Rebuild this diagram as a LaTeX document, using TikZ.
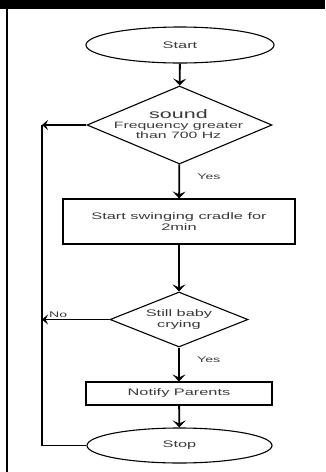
\documentclass[tikz,border=0pt]{standalone}
\usepackage{fontspec}
\usepackage{graphicx}
\setmainfont{Liberation Sans}
\newcommand{\W}[1]{\scalebox{1.72}[1]{#1}}
\usetikzlibrary{shapes.geometric,arrows.meta}
\definecolor{txt}{HTML}{3A3A3A}
\begin{document}
\begin{tikzpicture}[x=1pt,y=-1pt,
  every node/.style={text=txt,font=\fontsize{9.5}{11}\selectfont},
  term/.style={draw,ellipse,line width=1.1pt,inner sep=0pt},
  decis/.style={draw,diamond,line width=1.1pt,inner sep=0pt,align=center},
  proc/.style={draw,rectangle,line width=1.1pt,inner sep=0pt,align=center},
  flow/.style={line width=1.8pt,-{Stealth[length=7pt,width=13pt,inset=3pt]}},
  back/.style={line width=1.1pt,-{Stealth[length=6pt,width=10pt,inset=2.5pt]}},
  lbl/.style={font=\fontsize{8.2}{10}\selectfont}]
\useasboundingbox (0,0) rectangle (325,472);
\fill[black] (0,0) rectangle (325,9);
\draw[line width=2pt] (7,9) -- (7,472);

\node[term,minimum width=188pt,minimum height=36pt] (start) at (180,45) {\W{Start}};
\node[decis,minimum width=185pt,minimum height=78pt] (d1) at (179.5,125) {};
\node[align=center,inner sep=0pt,font=\fontsize{9.2}{10}\selectfont] (d1t) at (178.5,124.5)
  {{\fontsize{12.5}{10}\selectfont\W{sound}}\\\W{Frequency greater}\\\W{than 700 Hz}};
\node[proc,minimum width=232pt,minimum height=45pt] (r1) at (179,221.5) {\W{Start swinging cradle for}\\\W{2min}};
\node[decis,minimum width=138pt,minimum height=55pt,shape aspect=2.5] (d2) at (179,319.5) {\W{Still baby}\\\W{crying}};
\node[proc,minimum width=186pt,minimum height=23pt] (r2) at (179,393.5) {\W{Notify Parents}};
\node[term,minimum width=185pt,minimum height=35pt] (stop) at (179.5,445.5) {\W{Stop}};

\coordinate (c1) at (42,125);
\coordinate (c2) at (42,319.5);
\coordinate (c3) at (42,445.5);

\draw[flow] (start) -- (d1);
\draw[flow] (d1) -- node[lbl,right=14pt,pos=0.35] (y1) {\W{Yes}} (r1);
\draw[flow] (r1) -- (d2);
\draw[flow] (d2) -- node[lbl,right=14pt,pos=0.35] (y2) {\W{Yes}} (r2);
\draw[flow] (r2) -- (stop);
\draw[back] (d1.west) -- (c1);
\draw[back] (d2.west) -- node[lbl,above=-1.5pt,pos=0.76] (no) {\W{No}} (c2);
\draw[line width=1.3pt] (stop.west) -- (c3) -- (c1);
\end{tikzpicture}
\end{document}
